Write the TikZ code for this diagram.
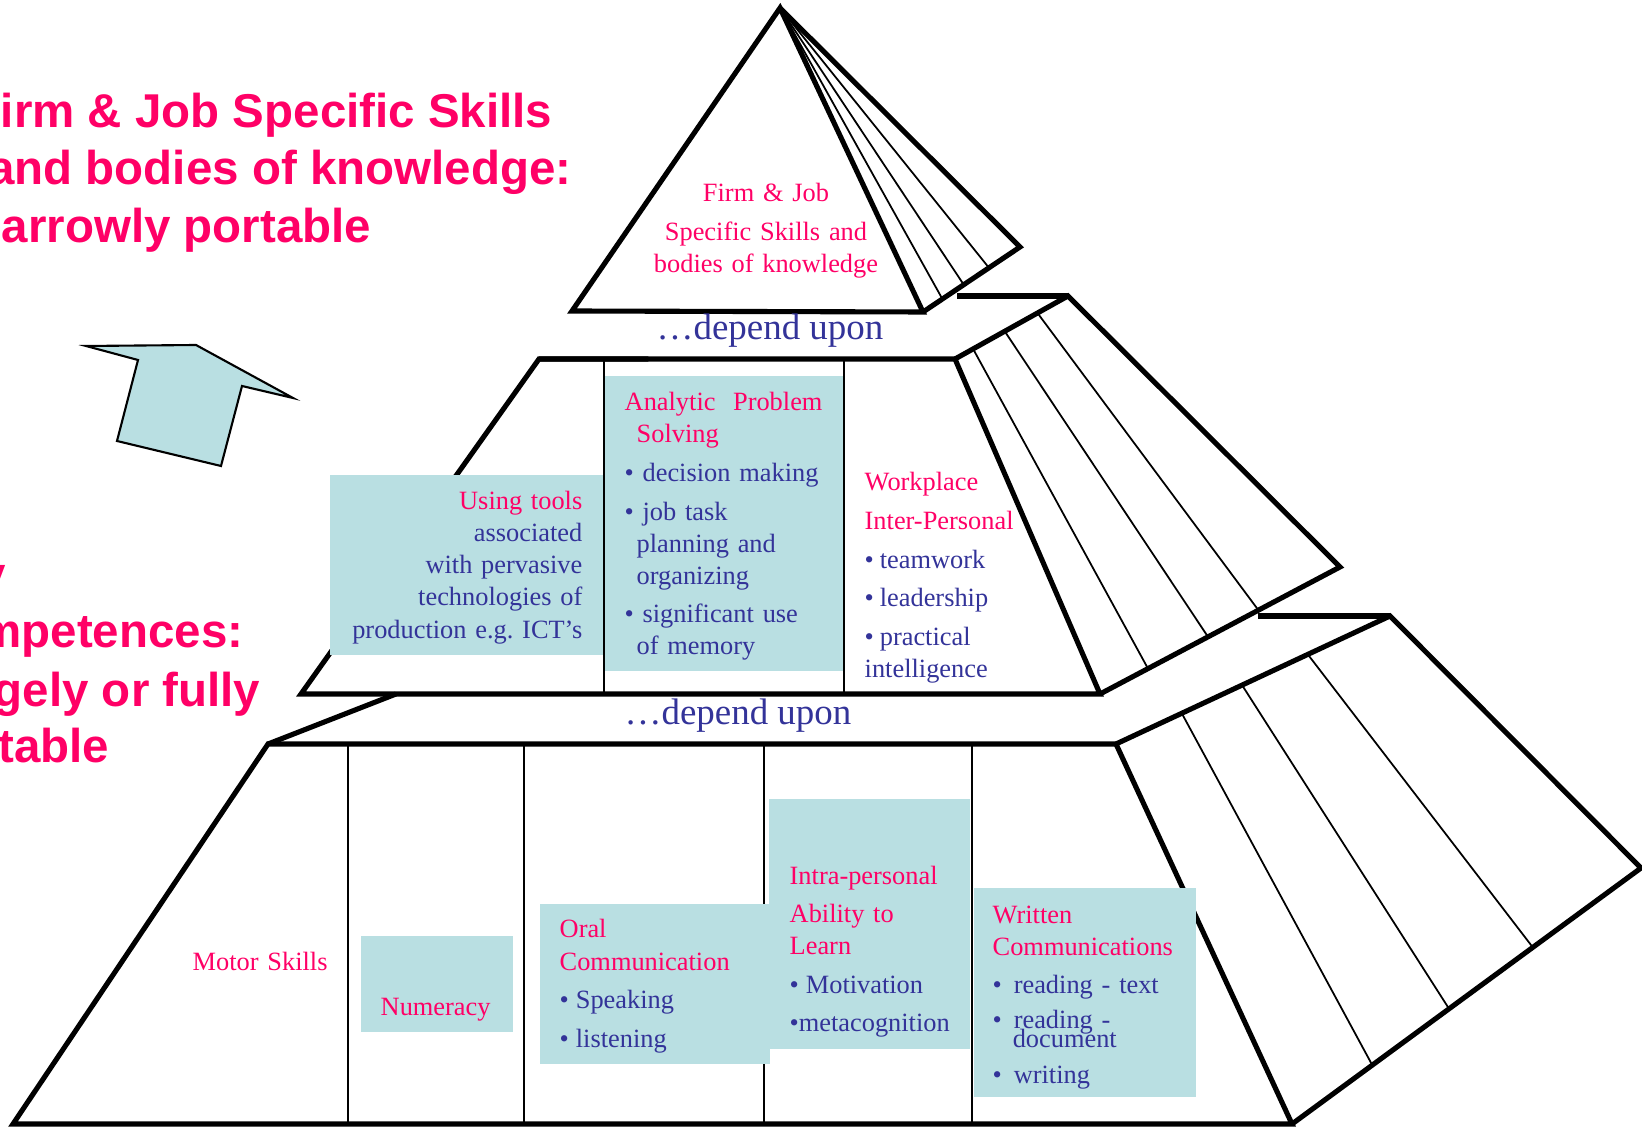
\documentclass[tikz,border=0pt]{standalone}
\usepackage{fontspec}
\setmainfont{Liberation Serif}
\newfontfamily\titleFont{Liberation Sans}
\usetikzlibrary{calc, fit}

\definecolor{pinkText}{HTML}{FF0066}
\definecolor{blueText}{HTML}{333399}
\definecolor{boxFill}{HTML}{B9DFE2}

\newcommand{\bul}[1][4.6pt]{\makebox[#1][l]{•}}
\newcommand{\pink}[1]{\textcolor{pinkText}{#1}}
\frenchspacing

\begin{document}
\begin{tikzpicture}[
    x = 0.01cm, y = -0.01cm,
    edgeLine/.append style = {line width = 1.45pt},
    faceLine/.append style = {line width = 0.5pt},
    divLine/.append style = {line width = 0.65pt},
    arrowShape/.append style = {draw, fill = boxFill, line width = 0.6pt},
    skillBox/.append style = {fill = boxFill, inner sep = 0pt},
    skillText/.append style = {inner sep = 0pt, text = blueText, text width = 70pt, align = left, anchor = base west, font = \fontsize{7.5}{9.1}\selectfont},
    bigTitle/.append style = {inner sep = 0pt, anchor = base east, text = pinkText, font = \titleFont\bfseries\fontsize{13.5}{16.3}\selectfont},
    dependText/.append style = {inner sep = 0pt, anchor = base, text = blueText, font = \fontsize{10.5}{12}\selectfont}
    ]
      \useasboundingbox (0,0) rectangle (1642,1128);
      \clip (0,0) rectangle (1642,1128);

      %% Corners
      \coordinate (apex) at (780,8);
      \coordinate (topLeft) at (572,311);
      \coordinate (topRight) at (923,312);
      \coordinate (topBack) at (1020,247);

      \coordinate (midTL) at (539,359);
      \coordinate (midTR) at (955,359);
      \coordinate (midBL) at (301,694);
      \coordinate (midBR) at (1100,694);
      \coordinate (midBackT) at (1068,296);
      \coordinate (midBackB) at (1340,567);

      \coordinate (lowTL) at (268,744);
      \coordinate (lowTR) at (1116,744);
      \coordinate (lowBL) at (13,1124);
      \coordinate (lowBR) at (1292,1124);
      \coordinate (lowBackT) at (1390,616);
      \coordinate (lowBackB) at (1641,868);

      %% Top pyramid
      \draw[edgeLine] (apex) -- (topLeft) -- (topRight) -- cycle;
      \draw[edgeLine] (apex) -- (topBack) -- (topRight);
      \foreach \t in {0.2, 0.42, 0.68}
        \draw[faceLine] (apex) -- ($(topRight)!\t!(topBack)$);

      %% Middle layer
      \draw[edgeLine] (midTL) -- ($(midTL)!0.285!(midTL -| topRight)$ |- topLeft);
      \draw[edgeLine] (957,296) -- (midBackT);
      \draw[edgeLine] (midTL) -- (midTR) -- (midBR) -- (midBL) -- cycle;
      \draw[edgeLine] (midTR) -- (midBackT) -- (midBackB) -- (midBR);
      \foreach \a/\b in {0.16/0.2, 0.44/0.45, 0.73/0.66}
        \draw[faceLine] ($(midTR)!\a!(midBackT)$) -- ($(midBR)!\b!(midBackB)$);
      \foreach \x in {604, 844}
        \draw[divLine] (\x,359) -- (\x,694);

      %% Bottom layer
      \draw[edgeLine] (lowTL) -- (396,694);
      \draw[edgeLine] (1258,616) -- (lowBackT);
      \draw[edgeLine] (lowTL) -- (lowTR) -- (lowBR) -- (lowBL) -- cycle;
      \draw[edgeLine] (lowTR) -- (lowBackT) -- (lowBackB) -- (lowBR);
      \foreach \a/\b in {0.24/0.23, 0.46/0.45, 0.7/0.69}
        \draw[faceLine] ($(lowTR)!\a!(lowBackT)$) -- ($(lowBR)!\b!(lowBackB)$);
      \foreach \x in {348, 524, 764, 972}
        \draw[divLine] (\x,744) -- (\x,1124);

      %% Upward arrow
      \draw[arrowShape] (86,346) -- (196,345) -- (293,398) -- (242,386) -- (221,466) -- (117,441) -- (138,360) -- cycle;

      %% Boxes
      \node[skillBox, fit = {(330,475) (603,655)}] (usingBox) {};
      \node[skillBox, fit = {(605,376) (843,671)}] (analyticBox) {};
      \node[skillBox, fit = {(361,936) (513,1032)}] (numeracyBox) {};
      \node[skillBox, fit = {(769,799) (970,1049)}] (intraBox) {};
      \node[skillBox, fit = {(540,904) (770,1064)}] (oralBox) {};
      \node[skillBox, fit = {(974,888) (1196,1097)}] (writtenBox) {};

      %% Titles
      \node[bigTitle] (titleFirm) at (553,128) {Firm \& Job Specific Skills};
      \node[bigTitle] (titleBodies) at (572,185) {and bodies of knowledge:};
      \node[bigTitle] (titleNarrow) at (372,243) {Narrowly portable};
      \node[bigTitle] (titleKey) at (7,591) {Key};
      \node[bigTitle] (titleComp) at (244,648) {Competences:};
      \node[bigTitle] (titleLarge) at (261,707) {largely or fully};
      \node[bigTitle] (titlePortable) at (110,763) {portable};

      %% Texts
      \node[skillText, text = pinkText, align = center, text width = 110pt, anchor = base] (firmText) at (766,202)
        {Firm \& Job\\[1.85pt] Specific Skills and\\ bodies of knowledge};
      \node[dependText] (dependUpper) at (770,340) {…depend upon};
      \node[dependText] (dependLower) at (738,725) {…depend upon};

      \node[skillText, align = right, anchor = base east] (usingText) at (583,510)
        {\pink{Using tools}\\ associated\\ with pervasive\\ technologies of\\ production e.g. ICT’s};
      \node[skillText] (analyticText) at (624,411)
        {\pink{Analytic\ \ Problem}\\
         \hspace*{3.4pt}\pink{Solving}\\[1.85pt]
         \bul[5.1pt]decision making\\[1.85pt]
         \bul[5.1pt]job task\\
         \hspace*{3.4pt}planning and\\
         \hspace*{3.4pt}organizing\\[1.85pt]
         \bul[5.1pt]significant use\\
         \hspace*{3.4pt}of memory};
      \node[skillText] (workplaceText) at (864,491)
        {\pink{Workplace}\\[1.85pt]
         \pink{Inter-Personal}\\[1.85pt]
         \bul[4.3pt]teamwork\\[1.85pt]
         \bul[4.3pt]leadership\\[1.85pt]
         \bul[4.3pt]practical\\
         intelligence};

      \node[skillText, text = pinkText] (motorText) at (192,971) {Motor Skills};
      \node[skillText, text = pinkText] (numeracyText) at (380,1015) {Numeracy};
      \node[skillText] (oralText) at (559,938)
        {\pink{Oral}\\
         \pink{Communication}\\[1.85pt]
         \bul Speaking\\[1.85pt]
         \bul listening};
      \node[skillText] (intraText) at (789,884)
        {\pink{Intra-personal}\\[1.85pt]
         \pink{Ability to}\\
         \pink{Learn}\\[1.85pt]
         \bul Motivation\\[1.85pt]
         \bul[2.6pt]metacognition};
      \node[skillText] (writtenText) at (992,923)
        {\pink{Written}\\
         \pink{Communications}\\[1.85pt]
         \bul[6pt]reading - text\\[0.86pt]
         \bul[6pt]reading -\\[-3.7pt]
         \hspace*{5.7pt}document\\[1.1pt]
         \bul[6pt]writing};
\end{tikzpicture}
\end{document}
